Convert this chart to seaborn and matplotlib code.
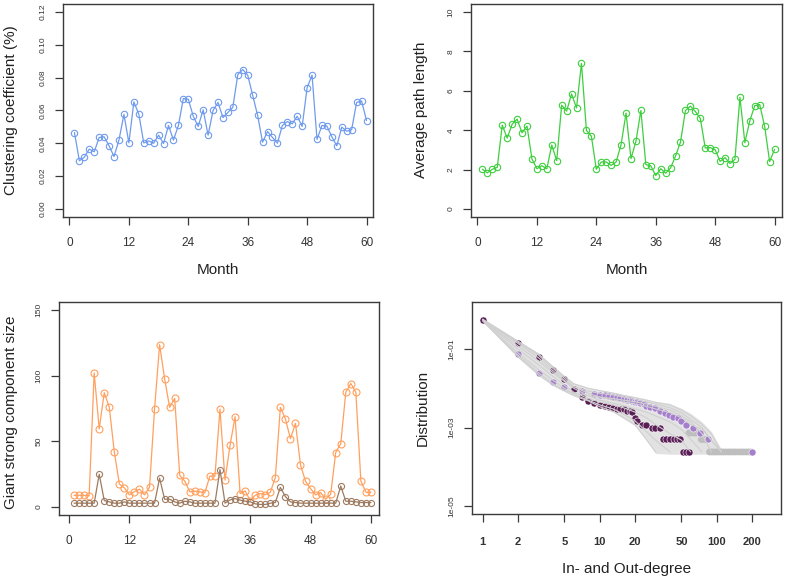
import numpy as np
import pandas as pd
import matplotlib
matplotlib.use("Agg")
import matplotlib.pyplot as plt
import seaborn as sns

# ---------------- data ----------------
months = list(range(1, 61))
month_ticks = [0, 12, 24, 36, 48, 60]

clustering = [0.0466, 0.0294, 0.0316, 0.0365, 0.0349, 0.0436, 0.0440, 0.0385, 0.0320, 0.0421,
              0.0576, 0.0403, 0.0652, 0.0578, 0.0403, 0.0415, 0.0401, 0.0450, 0.0399, 0.0509,
              0.0420, 0.0509, 0.0673, 0.0669, 0.0565, 0.0503, 0.0604, 0.0450, 0.0600, 0.0649,
              0.0557, 0.0588, 0.0620, 0.0819, 0.0849, 0.0815, 0.0693, 0.0571, 0.0407, 0.0472,
              0.0436, 0.0401, 0.0509, 0.0533, 0.0519, 0.0565, 0.0503, 0.0738, 0.0815, 0.0424,
              0.0509, 0.0505, 0.0440, 0.0385, 0.0499, 0.0474, 0.0484, 0.0649, 0.0658, 0.0539]

path_length = [2.02, 1.84, 2.02, 2.12, 4.26, 3.60, 4.31, 4.56, 3.87, 4.21,
               2.54, 2.05, 2.20, 2.04, 3.25, 2.46, 5.27, 4.97, 5.84, 5.13,
               7.39, 3.99, 3.70, 2.02, 2.39, 2.39, 2.22, 2.39, 3.27, 4.87,
               2.56, 3.43, 5.00, 2.26, 2.19, 1.70, 2.05, 1.82, 2.09, 2.69,
               3.40, 5.00, 5.22, 4.95, 4.60, 3.10, 3.12, 3.01, 2.42, 2.61,
               2.31, 2.53, 5.67, 3.37, 4.48, 5.25, 5.30, 4.19, 2.41, 3.03]

giant_orange = [9, 9, 9, 8.5, 102, 59.5, 87, 76, 42, 17.6,
                14.6, 9.3, 11.8, 13.6, 9.3, 15.1, 74.6, 123.6, 97.5, 75.9,
                82.7, 24.1, 19.8, 11.6, 12.1, 11.6, 11.1, 23.6, 23.6, 74.6,
                20.6, 47, 68.8, 10.3, 12.3, 5, 9, 10.3, 9.5, 11.3,
                22.4, 75.9, 67.1, 52, 63.8, 32.2, 19.6, 14.1, 9.3, 11.1,
                6, 9.8, 41.5, 48.2, 87.4, 94, 87.4, 19.8, 11.3, 11.3]

giant_brown = [3, 3, 3, 3, 3, 25, 5, 4, 3, 3,
               4, 3, 3, 3, 3, 3, 3, 22, 6, 6,
               4, 3, 4.5, 4, 3, 3, 3, 3, 3, 28.6,
               3, 5.5, 6.5, 5.3, 4.5, 4, 2.5, 2, 2, 3,
               3.5, 15, 8, 4, 3.5, 3, 3, 3, 3, 3,
               3, 3, 3, 16, 4.5, 4.5, 4, 3.5, 3.5, 3.5]

deg_dark = [1, 2, 3, 4, 5, 6, 7, 8, 9, 10, 11, 12, 13, 14, 15, 16, 17, 18, 19,
            20, 21, 23, 25, 28, 30, 33, 35, 37, 40, 43, 46, 49, 52, 55, 58]
p_dark = [0.565, 0.145, 0.064, 0.0295, 0.0171, 0.0095, 0.0059, 0.0048, 0.0042, 0.0038,
          0.0035, 0.0033, 0.0032, 0.0030, 0.0030, 0.0029, 0.0027, 0.0026, 0.0025,
          0.0018, 0.0015, 0.0012, 0.0012, 0.0010, 0.0010, 0.0010, 0.0005, 0.0005, 0.0005,
          0.0005, 0.0005, 0.0005, 0.00024, 0.00024, 0.00024]

deg_light = [1, 2, 3, 4, 5, 7, 9, 10, 11, 12, 13, 14, 15, 16, 17, 18, 19, 20, 21, 22,
             24, 25, 27, 30, 33, 36, 39, 42, 47, 50, 55, 63, 72, 85, 200]
p_light = [0.565, 0.0733, 0.0242, 0.0143, 0.0111, 0.0085, 0.0073, 0.0068, 0.0066, 0.0064,
           0.0062, 0.0060, 0.0057, 0.0054, 0.0052, 0.0050, 0.0048, 0.0046, 0.0044, 0.0042,
           0.0040, 0.0036, 0.0034, 0.0032, 0.0026, 0.0024, 0.0021, 0.0019, 0.0018, 0.0015,
           0.0012, 0.0010, 0.00073, 0.0005, 0.00024]

tail_deg = [58, 61, 64, 67, 70, 74, 77, 80, 83,
            87, 91, 95, 99, 104, 109, 114, 120, 126, 132, 139, 146, 154, 162, 170, 179, 188, 196]
tail_p = [0.00073, 0.00073, 0.00073, 0.00073, 0.00073, 0.0005, 0.0005, 0.0005, 0.0005,
          0.00024, 0.00024, 0.00024, 0.00024, 0.00024, 0.00024, 0.00024, 0.00024, 0.00024,
          0.00024, 0.00024, 0.00024, 0.00024, 0.00024, 0.00024, 0.00024, 0.00024, 0.00024]

gray_deg = [1, 2, 3, 4, 5, 6, 8, 10, 13, 16, 20, 25, 30, 40, 50, 60, 75, 90, 110]
band_low = [0.50, 0.060, 0.022, 0.012, 0.0085, 0.0068, 0.0047, 0.0032, 0.0025, 0.0017,
            0.0011, 0.0005, 0.00022, 0.00021, 0.00021, 0.00021, 0.00021, 0.00021, 0.00021]
band_high = [0.60, 0.165, 0.078, 0.037, 0.021, 0.014, 0.0105, 0.0092, 0.0080, 0.0070,
             0.0062, 0.0054, 0.0047, 0.0041, 0.0031, 0.0023, 0.0014, 0.0008, 0.00028]
gray_run1 = [0.58, 0.16, 0.075, 0.035, 0.020, 0.013, 0.010, 0.0088, 0.0076, 0.0066, 0.0058, 0.0050, 0.0044, 0.0038, 0.0028, 0.0020, 0.0012, 0.0007, 0.00024]
gray_run2 = [0.55, 0.12, 0.050, 0.025, 0.015, 0.011, 0.0085, 0.0075, 0.0068, 0.0060, 0.0052, 0.0045, 0.0040, 0.0032, 0.0024, 0.0016, 0.0010, 0.00048, 0.00024]
gray_run3 = [0.52, 0.07, 0.025, 0.013, 0.009, 0.0075, 0.0065, 0.0060, 0.0055, 0.0050, 0.0046, 0.0040, 0.0035, 0.0028, 0.0020, 0.0014, 0.0007, 0.00024, None]
gray_run4 = [0.57, 0.14, 0.060, 0.028, 0.016, 0.010, 0.0065, 0.0050, 0.0042, 0.0036, 0.0030, 0.0025, 0.0020, 0.0014, 0.0009, 0.0005, 0.00024, None, None]
gray_run5 = [0.56, 0.10, 0.040, 0.020, 0.012, 0.008, 0.0055, 0.0045, 0.0038, 0.0032, 0.0025, 0.0018, 0.0012, 0.0007, 0.00048, 0.00024, None, None, None]
gray_run6 = [0.54, 0.08, 0.030, 0.016, 0.010, 0.007, 0.0050, 0.0038, 0.0030, 0.0022, 0.0015, 0.0008, 0.00048, 0.00024, None, None, None, None, None]
gray_run7 = [0.53, 0.065, 0.022, 0.012, 0.0085, 0.0065, 0.0048, 0.0034, 0.0026, 0.0018, 0.0012, 0.0005, 0.00024, None, None, None, None, None, None]
gray_run8 = [0.56, 0.15, 0.070, 0.032, 0.018, 0.011, 0.0075, 0.0060, 0.0050, 0.0045, 0.0040, 0.0035, 0.0030, 0.0024, 0.0018, 0.0012, 0.0009, 0.00048, 0.00024]
gray_runs = [gray_run1, gray_run2, gray_run3, gray_run4, gray_run5, gray_run6, gray_run7, gray_run8]

deg_ticks = [1, 2, 5, 10, 20, 50, 100, 200]
deg_ticklabels = ["1", "2", "5", "10", "20", "50", "100", "200"]

# ---------------- style ----------------
sns.set_style("white")
plt.rcParams["font.family"] = ["Liberation Sans", "DejaVu Sans"]

W, H = 787, 580
fig = plt.figure(figsize=(W / 100, H / 100), dpi=100)
fig.patch.set_facecolor("white")

AXC = "#3a3a3a"
BLUE = "#6F9BEE"
GREEN = "#3DCF3D"
ORANGE = "#FFA05E"
BROWN = "#9E7B60"
DARK = "#5A1E56"
LIGHT = "#A57FCB"
GRAY = "#D0D0D0"


def add_ax(l, r, t, b):
    return fig.add_axes([l / W, 1 - b / H, (r - l) / W, (b - t) / H])


def style(ax, xlab_size=8.5, xpad=9):
    for s in ax.spines.values():
        s.set_visible(True)
        s.set_color(AXC)
        s.set_linewidth(1.0)
    ax.tick_params(axis="both", which="major", direction="out", length=5.5, width=0.9,
                   color=AXC, bottom=True, left=True, top=False, right=False)
    ax.tick_params(axis="x", labelsize=xlab_size, pad=xpad, labelcolor="#333333")
    ax.tick_params(axis="y", labelsize=6.0, pad=6.5, labelcolor="#333333")
    ax.grid(False)
    ax.set_xlabel("")
    ax.set_ylabel("")


def ytick_rot(ax, ticks, labels):
    ax.set_yticks(ticks)
    ax.set_yticklabels(labels, rotation=90, va="center")


def ftext(px, py, s, rot=0, size=11):
    fig.text(px / W, 1 - py / H, s, rotation=rot, ha="center", va="center",
             fontsize=size, color="#222222")


line_kw = dict(marker="o", markerfacecolor="none", markeredgewidth=0.8, linewidth=0.9, legend=False)

# ---- panel 1: clustering ----
ax1 = add_ax(63, 373, 4, 217)
sns.lineplot(x=months, y=clustering, ax=ax1, color=BLUE, markeredgecolor=BLUE, markersize=4.6, **line_kw)
ax1.set_xlim(-1.31, 61.31)
ax1.set_ylim(-0.0048, 0.1248)
ax1.set_xticks(month_ticks)
style(ax1)
ytick_rot(ax1, [0.0, 0.02, 0.04, 0.06, 0.08, 0.10, 0.12],
          ["0.00", "0.02", "0.04", "0.06", "0.08", "0.10", "0.12"])
ftext(11, 110, "Clustering coefficient (%)", rot=90)
ftext(218, 270, "Month")

# ---- panel 2: path length ----
ax2 = add_ax(471, 782, 4, 217)
sns.lineplot(x=months, y=path_length, ax=ax2, color=GREEN, markeredgecolor=GREEN, markersize=4.6, **line_kw)
ax2.set_xlim(-1.31, 61.5)
ax2.set_ylim(-0.4, 10.4)
ax2.set_xticks(month_ticks)
style(ax2)
ytick_rot(ax2, [0, 2, 4, 6, 8, 10], ["0", "2", "4", "6", "8", "10"])
ftext(421, 110, "Average path length", rot=90)
ftext(627, 270, "Month")

# ---- panel 3: giant strong component ----
ax3 = add_ax(59, 379, 302, 515)
sns.lineplot(x=months, y=giant_orange, ax=ax3, color=ORANGE, markeredgecolor=ORANGE, markersize=5.0, **line_kw)
sns.lineplot(x=months, y=giant_brown, ax=ax3, color=BROWN, markeredgecolor=BROWN, markersize=4.4, **line_kw)
ax3.set_xlim(-1.99, 61.6)
ax3.set_ylim(-6, 156)
ax3.set_xticks(month_ticks)
style(ax3)
ytick_rot(ax3, [0, 50, 100, 150], ["0", "50", "100", "150"])
ftext(11, 412, "Giant strong component size", rot=90)

# ---- panel 4: degree distribution ----
ax4 = add_ax(472, 781, 302, 514)
ax4.set_xscale("log")
ax4.set_yscale("log")
ax4.fill_between(gray_deg, band_low, band_high, color="#E2E2E2", linewidth=0)
rows = []
for i, run in enumerate(gray_runs):
    for d, p in zip(gray_deg, run):
        if p is not None:
            rows.append({"deg": d, "p": p, "run": i})
gray_df = pd.DataFrame(rows)
sns.lineplot(data=gray_df, x="deg", y="p", units="run", estimator=None, ax=ax4,
             color=GRAY, linewidth=0.8, legend=False)
sns.scatterplot(x=tail_deg, y=tail_p, ax=ax4, color="#BEBEBE", s=24, edgecolor="none", legend=False)
sns.scatterplot(x=deg_light, y=p_light, ax=ax4, color=LIGHT, s=26, edgecolor="white", linewidth=0.4, legend=False)
sns.scatterplot(x=deg_dark, y=p_dark, ax=ax4, color=DARK, s=26, edgecolor="white", linewidth=0.4, legend=False)
ax4.set_xlim(0.81, 355)
ax4.set_ylim(10 ** -5.2, 10 ** 0.2)
ax4.minorticks_off()
ax4.set_xticks(deg_ticks)
ax4.set_xticklabels(deg_ticklabels, fontweight="bold")
style(ax4, xlab_size=8.0, xpad=11)
ax4.minorticks_off()
ytick_rot(ax4, [1e-1, 1e-3, 1e-5], ["1e-01", "1e-03", "1e-05"])
ftext(423, 408, "Distribution", rot=90)
ftext(627, 569, "In- and Out-degree")

fig.savefig("out.png", dpi=100, facecolor="white")
